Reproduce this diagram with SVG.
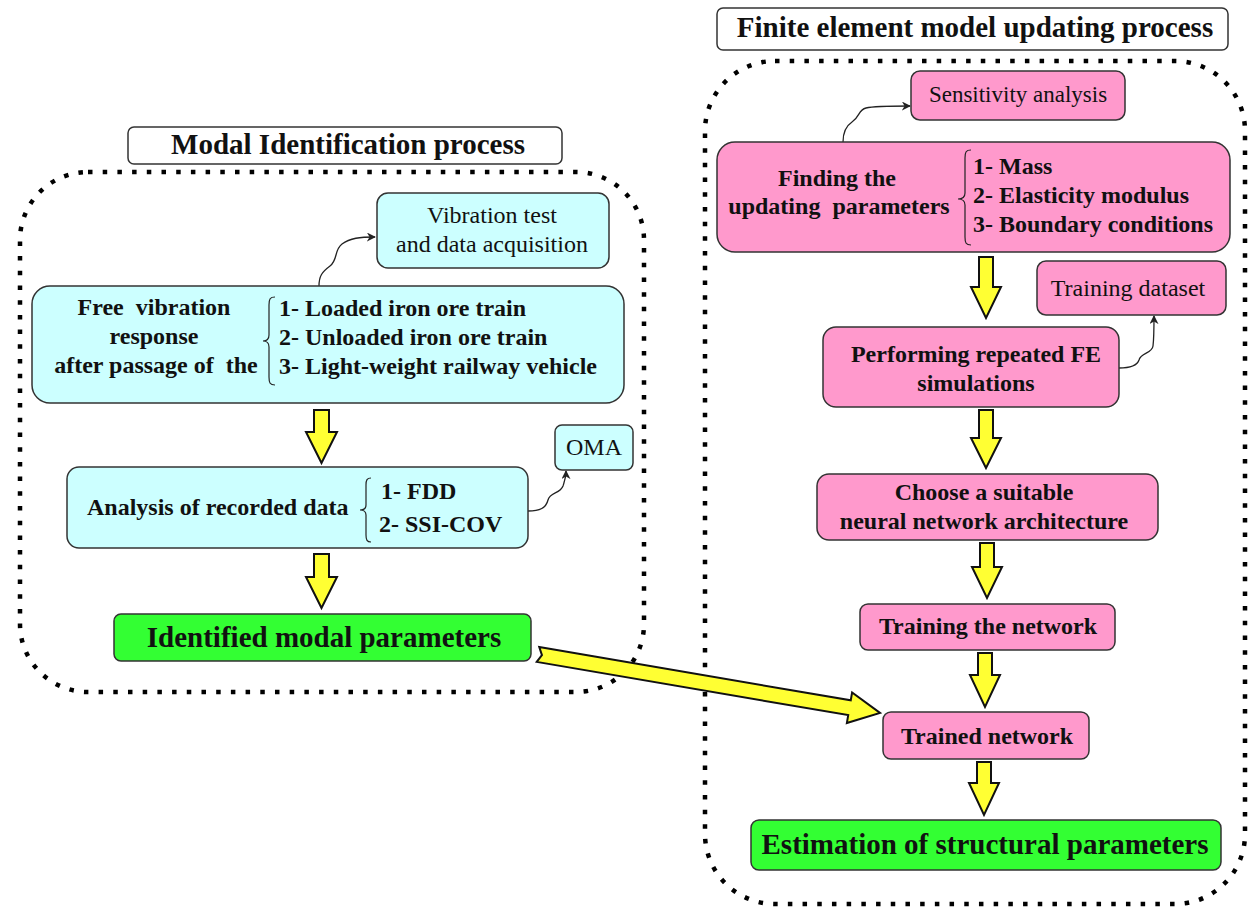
<svg xmlns="http://www.w3.org/2000/svg" width="1248" height="907" viewBox="0 0 1248 907">
  <style>
    .frame { fill: none; stroke: #000; stroke-width: 4.5; stroke-dasharray: 4.5 10.2; }
    .title { fill: #fff; stroke: #333; stroke-width: 1.5; }
    .cyan { fill: #ccffff; stroke: #333; stroke-width: 1.5; }
    .pink { fill: #ff99cc; stroke: #333; stroke-width: 1.5; }
    .green { fill: #33ff33; stroke: #333; stroke-width: 1.5; }
    .flow { fill: #ffff33; stroke: #111; stroke-width: 2; stroke-linejoin: miter; }
    .link { fill: none; stroke: #222; stroke-width: 1.3; marker-end: url(#tip); }
    .brace { fill: none; stroke: #222; stroke-width: 1.2; }
    text { font-family: "Liberation Serif", "Times New Roman", serif; fill: #111; white-space: pre; }
    .h { font-size: 29px; font-weight: bold; }
    .b { font-size: 24px; font-weight: bold; }
    .n { font-size: 24px; }
    .big { font-size: 29px; font-weight: bold; }
    .c { text-anchor: middle; }
  </style>
  <defs>
    <marker id="tip" viewBox="0 0 10 10" refX="9" refY="5" markerWidth="9" markerHeight="9" markerUnits="userSpaceOnUse" orient="auto">
      <path d="M0,0 L10,5 L0,10 L3,5 Z" fill="#222"/>
    </marker>
  </defs>

  <!-- dotted process frames -->
  <g id="frames">
    <rect class="frame" x="20" y="172" width="624" height="520" rx="68" ry="68"/>
    <rect class="frame" x="705" y="61" width="540" height="843" rx="70" ry="70"/>
  </g>

  <!-- section titles -->
  <g id="title-modal">
    <rect class="title" x="128" y="127" width="434" height="37" rx="6"/>
    <text class="h c" x="348" y="154">Modal Identification process</text>
  </g>
  <g id="title-fe">
    <rect class="title" x="717" y="8" width="511" height="42" rx="6"/>
    <text class="h c" x="975" y="37">Finite element model updating process</text>
  </g>

  <!-- connectors -->
  <g id="connectors">
    <path class="link" d="M319,286 C319,276 322,272 330,266 C338,260 334,250 342,244 C350,238 360,237 375,237"/>
    <path class="link" d="M528,511 C540,511 546,508 548,500 C550,492 560,494 563,486 C565,480 566,478 566,471"/>
    <path class="link" d="M843,142 C843,132 846,126 852,122 C860,117 858,110 866,108 C874,106 890,106 910,106"/>
    <path class="link" d="M1119,368 C1130,368 1137,366 1139,360 C1141,352 1152,354 1153,346 C1154,338 1154,328 1154,316"/>

    <!-- block arrows, left column -->
    <polygon class="flow" points="314,410 329,410 329,432 337,432 321.5,463 306,432 314,432"/>
    <polygon class="flow" points="314,554 329,554 329,577 337,577 321.5,608 306,577 314,577"/>
    <!-- block arrows, right column -->
    <polygon class="flow" points="979,257 993,257 993,287 1001,287 986,318 971,287 979,287"/>
    <polygon class="flow" points="979,410 993,410 993,438 1001,438 986,468 971,438 979,438"/>
    <polygon class="flow" points="980,543 994,543 994,567 1002,567 987,598 972,567 980,567"/>
    <polygon class="flow" points="978,653 992,653 992,675 1000,675 985,707 970,675 978,675"/>
    <polygon class="flow" points="977,762 991,762 991,783 999,783 984,815 969,783 977,783"/>
    <!-- cross arrow into the trained network -->
    <polygon class="flow" transform="translate(538,654.5) rotate(9.7)" points="0,-7.5 316,-7.5 316,-15.5 347,0 316,15.5 316,7.5 0,7.5 4,0"/>
  </g>

  <!-- modal identification nodes -->
  <g id="vibration-test">
    <rect class="cyan" x="377" y="193" width="232" height="75" rx="11"/>
    <text class="n c" x="492" y="223">Vibration test</text>
    <text class="n c" x="492" y="252">and data acquisition</text>
  </g>
  <g id="free-vibration">
    <rect class="cyan" x="32" y="286" width="592" height="117" rx="18"/>
    <text class="b c" x="154" y="315">Free  vibration</text>
    <text class="b c" x="154" y="344">response</text>
    <text class="b c" x="156" y="373">after passage of  the</text>
    <path class="brace" d="M275,297 C270,297 269,299 269,305 L269,335 C269,339 267,341 263,341 C267,341 269,343 269,347 L269,377 C269,383 270,385 275,385"/>
    <text class="b" x="279" y="316">1- Loaded iron ore train</text>
    <text class="b" x="279" y="345">2- Unloaded iron ore train</text>
    <text class="b" x="279" y="374">3- Light-weight railway vehicle</text>
  </g>
  <g id="oma">
    <rect class="cyan" x="555" y="425" width="78" height="45" rx="7"/>
    <text class="n c" x="594" y="455">OMA</text>
  </g>
  <g id="analysis">
    <rect class="cyan" x="67" y="467" width="461" height="81" rx="12"/>
    <text class="b" x="87" y="515">Analysis of recorded data</text>
    <path class="brace" d="M371,478 C367,478 366,480 366,485 L366,505 C366,508 364,510 360,510 C364,510 366,512 366,515 L366,535 C366,540 367,542 371,542"/>
    <text class="b" x="381" y="499">1- FDD</text>
    <text class="b" x="379" y="532">2- SSI-COV</text>
  </g>
  <g id="identified">
    <rect class="green" x="114" y="614" width="417" height="47" rx="7"/>
    <text class="big c" x="324" y="647">Identified modal parameters</text>
  </g>

  <!-- FE model updating nodes -->
  <g id="sensitivity">
    <rect class="pink" x="911" y="71" width="214" height="49" rx="9"/>
    <text class="n c" x="1018" y="102" style="font-size:23px">Sensitivity analysis</text>
  </g>
  <g id="finding">
    <rect class="pink" x="717" y="142" width="513" height="110" rx="18"/>
    <text class="b c" x="837" y="186">Finding the</text>
    <text class="b c" x="839" y="214">updating  parameters</text>
    <path class="brace" d="M971,150 C966,150 965,152 965,158 L965,193 C965,197 963,199 958,199 C963,199 965,201 965,205 L965,237 C965,243 966,245 971,245"/>
    <text class="b" x="973" y="174">1- Mass</text>
    <text class="b" x="973" y="203">2- Elasticity modulus</text>
    <text class="b" x="973" y="232">3- Boundary conditions</text>
  </g>
  <g id="training-dataset">
    <rect class="pink" x="1037" y="261" width="189" height="54" rx="9"/>
    <text class="n c" x="1128" y="296">Training dataset</text>
  </g>
  <g id="fe-simulations">
    <rect class="pink" x="823" y="327" width="296" height="80" rx="13"/>
    <text class="b c" x="976" y="362">Performing repeated FE</text>
    <text class="b c" x="976" y="391">simulations</text>
  </g>
  <g id="architecture">
    <rect class="pink" x="817" y="474" width="341" height="66" rx="12"/>
    <text class="b c" x="984" y="500">Choose a suitable</text>
    <text class="b c" x="984" y="529">neural network architecture</text>
  </g>
  <g id="training">
    <rect class="pink" x="860" y="604" width="255" height="46" rx="8"/>
    <text class="b c" x="988" y="634">Training the network</text>
  </g>
  <g id="trained">
    <rect class="pink" x="883" y="712" width="206" height="47" rx="8"/>
    <text class="b c" x="987" y="744">Trained network</text>
  </g>
  <g id="estimation">
    <rect class="green" x="751" y="820" width="470" height="50" rx="8"/>
    <text class="big c" x="985" y="854">Estimation of structural parameters</text>
  </g>
</svg>
